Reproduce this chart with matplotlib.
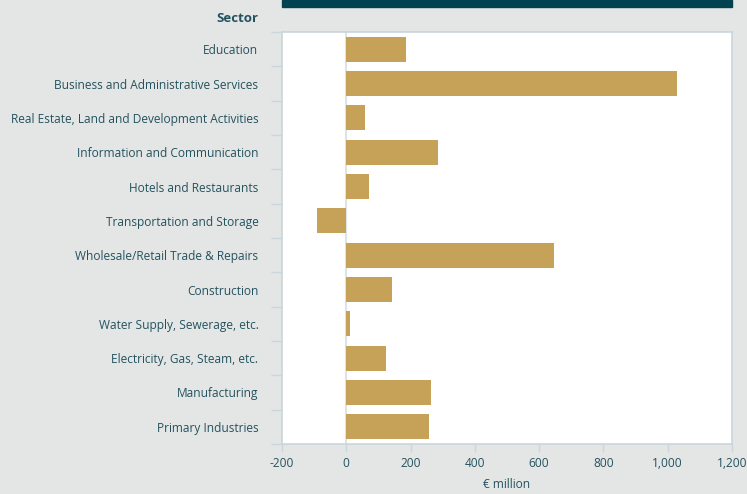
import numpy as np
import matplotlib.pyplot as plt
from matplotlib.patches import Rectangle

# sectors, top to bottom as shown
sectors = [
    "Education",
    "Business and Administrative Services",
    "Real Estate, Land and Development Activities",
    "Information and Communication",
    "Hotels and Restaurants",
    "Transportation and Storage",
    "Wholesale/Retail Trade & Repairs",
    "Construction",
    "Water Supply, Sewerage, etc.",
    "Electricity, Gas, Steam, etc.",
    "Manufacturing",
    "Primary Industries",
]
values = [186, 1028, 59, 286, 71, -90, 646, 143, 10, 124, 264, 258]

x_ticks = [-200, 0, 200, 400, 600, 800, 1000, 1200]
x_tick_labels = ["-200", "0", "200", "400", "600", "800", "1,000", "1,200"]

BG = "#e4e6e5"
BAR = "#c5a257"
TEXT = "#24525e"
EDGE = "#c9d6dc"
DARK = "#00424f"

plt.rcParams['font.family'] = ['Open Sans', 'DejaVu Sans']

fig = plt.figure(figsize=(7.47, 4.94), dpi=100, facecolor=BG)
W, H = 747, 494
ax = fig.add_axes([282 / W, 1 - 444 / H, 450 / W, 412 / H])
ax.set_facecolor("white")

y = np.arange(len(sectors))
ax.barh(y, values, height=0.73, color=BAR, zorder=3)
ax.axvline(0, color="#dde3e6", lw=1.5, zorder=2)

ax.set_xlim(-200, 1200)
ax.set_ylim(len(sectors) - 0.5, -0.5)

ax.set_yticks(y)
ax.set_yticklabels(sectors)
ax.set_yticks(np.arange(len(sectors) + 1) - 0.5, minor=True)
ax.tick_params(axis="y", which="major", length=0, pad=17, labelsize=8.6, labelcolor=TEXT)
ax.tick_params(axis="y", which="minor", length=8, width=1, color=EDGE)

ax.set_xticks(x_ticks)
ax.set_xticklabels(x_tick_labels)
ax.tick_params(axis="x", length=6, width=1, color=EDGE, labelsize=8.6, labelcolor=TEXT, pad=3)

for s in ax.spines.values():
    s.set_color(EDGE)
    s.set_linewidth(1.2)

ax.set_xlabel("€ million", fontsize=8.6, color=TEXT, labelpad=6)

fig.text(258 / W, 1 - 18 / H, "Sector", ha="right", va="center",
         fontsize=9.5, fontweight="bold", color=TEXT)

# dark header strip above the plot area
fig.patches.append(Rectangle((282 / W, 1 - 7 / H), 450 / W, 7 / H,
                             transform=fig.transFigure, color=DARK, zorder=1))

fig.savefig("out.png", dpi=100, facecolor=BG)
